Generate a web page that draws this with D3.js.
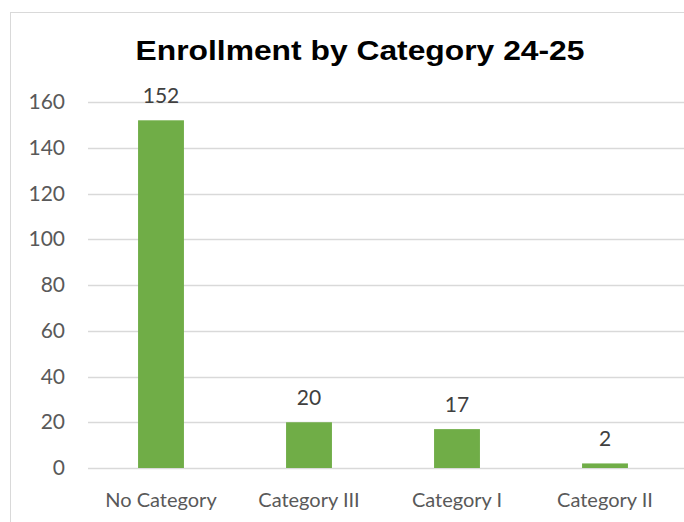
<!DOCTYPE html>
<html>
<head>
<meta charset="utf-8">
<script src="https://cdn.jsdelivr.net/npm/d3@7"></script>
<style>
  body { margin: 0; background: #fff; }
  #chart { width: 684px; height: 522px; }
</style>
</head>
<body>
<div id="chart"></div>
<script>
// Chart data
const categories = ["No Category", "Category III", "Category I", "Category II"];
const enrollment = [152, 20, 17, 2];
const yTicks = [0, 20, 40, 60, 80, 100, 120, 140, 160];
const chartTitle = "Enrollment by Category 24-25";

const width = 684, height = 522;
const margin = { top: 102, right: 5, bottom: 54, left: 87 };
const labelFont = "Lato, 'Open Sans', 'Noto Sans', sans-serif";

const svg = d3.select("#chart")
  .append("svg")
  .attr("width", width)
  .attr("height", height);

// chart area border (right and bottom run off the picture)
svg.append("rect")
  .attr("x", 10.5)
  .attr("y", 12.5)
  .attr("width", width)
  .attr("height", height)
  .attr("fill", "none")
  .attr("stroke", "#d9d9d9")
  .attr("stroke-width", 1);

const x = d3.scaleBand()
  .domain(categories)
  .range([margin.left, width - margin.right])
  .paddingInner(0.69)
  .paddingOuter(0.345);

const y = d3.scaleLinear()
  .domain([0, 160])
  .range([height - margin.bottom, margin.top]);

// gridlines
svg.append("g")
  .selectAll("line")
  .data(yTicks)
  .join("line")
  .attr("x1", margin.left + 1)
  .attr("x2", width)
  .attr("y1", d => Math.round(y(d)) + 0.5)
  .attr("y2", d => Math.round(y(d)) + 0.5)
  .attr("stroke", "#d9d9d9")
  .attr("stroke-width", 1.5);

// y axis labels
const yAxis = d3.axisLeft(y).tickValues(yTicks).tickSize(0).tickPadding(0);
svg.append("g")
  .attr("transform", `translate(65,0)`)
  .call(yAxis)
  .call(g => g.select(".domain").remove())
  .selectAll("text")
  .style("font-family", labelFont)
  .style("font-size", "21px")
  .style("fill", "#595959");

// bars
svg.append("g")
  .selectAll("rect")
  .data(enrollment)
  .join("rect")
  .attr("x", (d, i) => x(categories[i]))
  .attr("y", d => y(d))
  .attr("width", x.bandwidth())
  .attr("height", d => y(0) - y(d))
  .attr("fill", "#70ad47");

// value labels
svg.append("g")
  .selectAll("text")
  .data(enrollment)
  .join("text")
  .attr("x", (d, i) => x(categories[i]) + x.bandwidth() / 2)
  .attr("y", d => y(d) - 17)
  .attr("text-anchor", "middle")
  .style("font-family", labelFont)
  .style("font-size", "21px")
  .style("fill", "#404040")
  .text(d => d);

// x axis labels
svg.append("g")
  .selectAll("text")
  .data(categories)
  .join("text")
  .attr("x", d => x(d) + x.bandwidth() / 2)
  .attr("y", 507)
  .attr("text-anchor", "middle")
  .style("font-family", labelFont)
  .style("font-size", "20px")
  .style("fill", "#595959")
  .text(d => d);

// title
svg.append("text")
  .attr("x", 360)
  .attr("y", 60)
  .attr("text-anchor", "middle")
  .attr("textLength", 449)
  .attr("lengthAdjust", "spacingAndGlyphs")
  .style("font-family", "'Liberation Sans', Arial, sans-serif")
  .style("font-weight", "bold")
  .style("font-size", "28px")
  .style("fill", "#000")
  .text(chartTitle);
</script>
</body>
</html>
